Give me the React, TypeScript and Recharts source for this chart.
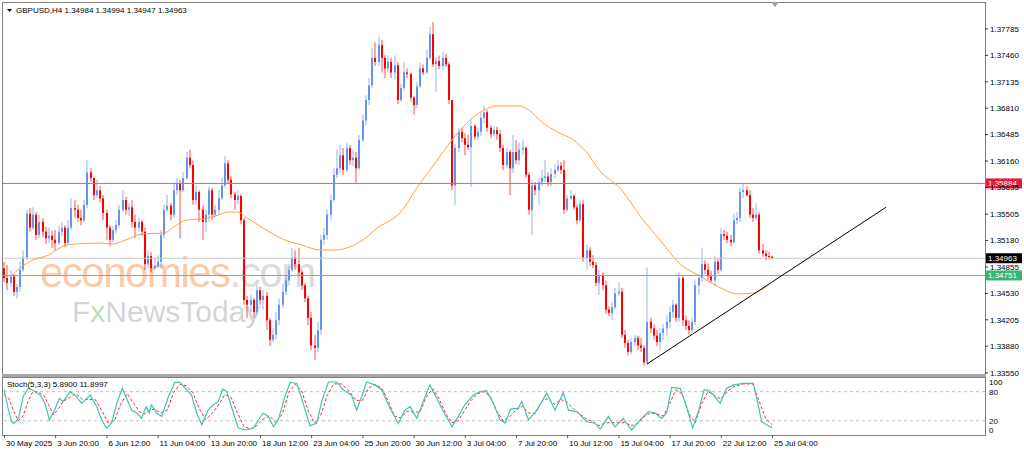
import React from 'react';
import { ComposedChart, Bar, Line, XAxis, YAxis, ReferenceLine } from 'recharts';

// GBPUSD H4, 30 May 2025 .. 25 Jul 2025 (241 bars), open = previous close
const xLabels = [
  '30 May 2025', '3 Jun 20:00', '6 Jun 12:00', '11 Jun 04:00', '13 Jun 20:00', '18 Jun 12:00',
  '23 Jun 04:00', '25 Jun 20:00', '30 Jun 12:00', '3 Jul 04:00', '7 Jul 20:00', '10 Jul 12:00',
  '15 Jul 04:00', '17 Jul 20:00', '22 Jul 12:00', '25 Jul 04:00',
];

const firstOpen = 1.3484;

const closes = [
  1.3472, 1.3466, 1.3474, 1.3455, 1.3461, 1.3482, 1.3497, 1.3551, 1.3534, 1.3550, 1.3525, 1.3541, 1.3529, 1.3521, 1.3524, 1.3519,
  1.3515, 1.3529, 1.3534, 1.3515, 1.3534, 1.3558, 1.3556, 1.3546, 1.3543, 1.3562, 1.3602, 1.3595, 1.3574, 1.3580, 1.3570, 1.3552,
  1.3534, 1.3519, 1.3531, 1.3537, 1.3556, 1.3568, 1.3556, 1.3559, 1.3541, 1.3534, 1.3541, 1.3529, 1.3489, 1.3499, 1.3484, 1.3487,
  1.3492, 1.3525, 1.3556, 1.3561, 1.3550, 1.3580, 1.3589, 1.3580, 1.3595, 1.3620, 1.3611, 1.3568, 1.3578, 1.3556, 1.3541, 1.3550,
  1.3580, 1.3550, 1.3556, 1.3570, 1.3586, 1.3613, 1.3593, 1.3575, 1.3568, 1.3573, 1.3543, 1.3445, 1.3439, 1.3445, 1.3430, 1.3457,
  1.3445, 1.3450, 1.3420, 1.3396, 1.3402, 1.3420, 1.3439, 1.3455, 1.3469, 1.3482, 1.3497, 1.3489, 1.3479, 1.3463, 1.3447, 1.3423,
  1.3389, 1.3386, 1.3408, 1.3519, 1.3525, 1.3550, 1.3568, 1.3599, 1.3607, 1.3623, 1.3605, 1.3632, 1.3617, 1.3620, 1.3607, 1.3642,
  1.3666, 1.3691, 1.3709, 1.3743, 1.3738, 1.3759, 1.3743, 1.3730, 1.3738, 1.3725, 1.3734, 1.3691, 1.3706, 1.3725, 1.3723, 1.3694,
  1.3685, 1.3708, 1.3730, 1.3725, 1.3743, 1.3772, 1.3735, 1.3739, 1.3733, 1.3743, 1.3735, 1.3691, 1.3586, 1.3632, 1.3652, 1.3644,
  1.3636, 1.3633, 1.3659, 1.3646, 1.3652, 1.3669, 1.3676, 1.3657, 1.3649, 1.3654, 1.3649, 1.3632, 1.3611, 1.3627, 1.3607, 1.3627,
  1.3617, 1.3630, 1.3632, 1.3599, 1.3556, 1.3586, 1.3580, 1.3590, 1.3595, 1.3597, 1.3590, 1.3600, 1.3605, 1.3610, 1.3605, 1.3556,
  1.3570, 1.3573, 1.3559, 1.3543, 1.3563, 1.3497, 1.3506, 1.3492, 1.3488, 1.3466, 1.3476, 1.3463, 1.3433, 1.3429, 1.3436, 1.3453,
  1.3455, 1.3402, 1.3392, 1.3381, 1.3393, 1.3398, 1.3389, 1.3386, 1.3368, 1.3418, 1.3410, 1.3401, 1.3393, 1.3404, 1.3410, 1.3418,
  1.3430, 1.3439, 1.3423, 1.3472, 1.3420, 1.3413, 1.3408, 1.3418, 1.3463, 1.3472, 1.3489, 1.3482, 1.3474, 1.3469, 1.3492, 1.3482,
  1.3526, 1.3524, 1.3519, 1.3516, 1.3543, 1.3546, 1.3578, 1.3580, 1.3574, 1.3550, 1.3546, 1.3550, 1.3506, 1.3502, 1.3499, 1.34984,
  1.34963,
];

const highs = [
  1.3492, 1.3488, 1.3482, 1.3477, 1.3465, 1.3492, 1.3506, 1.3556, 1.3558, 1.3559, 1.3553, 1.3550, 1.3546, 1.3535, 1.3534, 1.3530,
  1.3531, 1.3536, 1.3541, 1.3537, 1.3543, 1.3570, 1.3568, 1.3562, 1.3556, 1.3568, 1.3617, 1.3607, 1.3597, 1.3593, 1.3585, 1.3574,
  1.3556, 1.3537, 1.3536, 1.3543, 1.3562, 1.3580, 1.3572, 1.3564, 1.3568, 1.3550, 1.3546, 1.3543, 1.3534, 1.3506, 1.3504, 1.3497,
  1.3500, 1.3531, 1.3562, 1.3574, 1.3564, 1.3590, 1.3595, 1.3593, 1.3602, 1.3627, 1.3630, 1.3617, 1.3586, 1.3580, 1.3562, 1.3556,
  1.3585, 1.3583, 1.3562, 1.3580, 1.3595, 1.3622, 1.3617, 1.3597, 1.3578, 1.3580, 1.3575, 1.3546, 1.3450, 1.3451, 1.3447, 1.3463,
  1.3461, 1.3457, 1.3455, 1.3423, 1.3410, 1.3430, 1.3447, 1.3465, 1.3476, 1.3489, 1.3509, 1.3506, 1.3509, 1.3482, 1.3466, 1.3450,
  1.3430, 1.3402, 1.3418, 1.3525, 1.3534, 1.3556, 1.3574, 1.3607, 1.3630, 1.3636, 1.3632, 1.3638, 1.3636, 1.3630, 1.3627, 1.3648,
  1.3673, 1.3697, 1.3718, 1.3755, 1.3762, 1.3769, 1.3765, 1.3746, 1.3746, 1.3743, 1.3746, 1.3738, 1.3711, 1.3738, 1.3730, 1.3725,
  1.3696, 1.3713, 1.3737, 1.3735, 1.3753, 1.3781, 1.3787, 1.3744, 1.3746, 1.3750, 1.3748, 1.3738, 1.3691, 1.3637, 1.3657, 1.3657,
  1.3650, 1.3648, 1.3667, 1.3662, 1.3657, 1.3676, 1.3684, 1.3679, 1.3660, 1.3659, 1.3658, 1.3654, 1.3636, 1.3632, 1.3630, 1.3648,
  1.3642, 1.3639, 1.3642, 1.3634, 1.3602, 1.3593, 1.3590, 1.3595, 1.3605, 1.3617, 1.3602, 1.3607, 1.3612, 1.3617, 1.3615, 1.3617,
  1.3574, 1.3580, 1.3575, 1.3562, 1.3568, 1.3568, 1.3513, 1.3510, 1.3500, 1.3492, 1.3482, 1.3479, 1.3469, 1.3437, 1.3442, 1.3460,
  1.3467, 1.3460, 1.3408, 1.3396, 1.3398, 1.3402, 1.3401, 1.3398, 1.3389, 1.3485, 1.3423, 1.3415, 1.3408, 1.3410, 1.3415, 1.3426,
  1.3437, 1.3445, 1.3441, 1.3479, 1.3474, 1.3426, 1.3420, 1.3423, 1.3469, 1.3477, 1.3509, 1.3494, 1.3490, 1.3481, 1.3499, 1.3497,
  1.3534, 1.3531, 1.3529, 1.3525, 1.3551, 1.3553, 1.3583, 1.3588, 1.3585, 1.3580, 1.3558, 1.3564, 1.3553, 1.3514, 1.3506, 1.3504,
  1.34994,
];

const lows = [
  1.3467, 1.3457, 1.3461, 1.3450, 1.3447, 1.3455, 1.3479, 1.3494, 1.3529, 1.3531, 1.3519, 1.3521, 1.3522, 1.3514, 1.3515, 1.3509,
  1.3506, 1.3513, 1.3524, 1.3510, 1.3513, 1.3531, 1.3546, 1.3541, 1.3537, 1.3541, 1.3558, 1.3590, 1.3568, 1.3570, 1.3565, 1.3543,
  1.3519, 1.3511, 1.3516, 1.3527, 1.3534, 1.3553, 1.3550, 1.3548, 1.3534, 1.3521, 1.3529, 1.3524, 1.3482, 1.3484, 1.3479, 1.3482,
  1.3484, 1.3484, 1.3521, 1.3553, 1.3543, 1.3546, 1.3574, 1.3521, 1.3578, 1.3593, 1.3607, 1.3562, 1.3562, 1.3541, 1.3519, 1.3529,
  1.3541, 1.3543, 1.3546, 1.3550, 1.3568, 1.3583, 1.3588, 1.3570, 1.3556, 1.3563, 1.3538, 1.3439, 1.3423, 1.3430, 1.3423, 1.3426,
  1.3439, 1.3433, 1.3408, 1.3388, 1.3393, 1.3396, 1.3414, 1.3435, 1.3451, 1.3463, 1.3479, 1.3482, 1.3474, 1.3457, 1.3442, 1.3414,
  1.3383, 1.3371, 1.3381, 1.3402, 1.3513, 1.3519, 1.3543, 1.3565, 1.3595, 1.3602, 1.3599, 1.3602, 1.3611, 1.3610, 1.3589, 1.3605,
  1.3639, 1.3660, 1.3685, 1.3706, 1.3733, 1.3733, 1.3725, 1.3718, 1.3725, 1.3718, 1.3716, 1.3686, 1.3689, 1.3703, 1.3718, 1.3689,
  1.3673, 1.3681, 1.3706, 1.3722, 1.3723, 1.3740, 1.3732, 1.3701, 1.3729, 1.3728, 1.3732, 1.3686, 1.3580, 1.3562, 1.3627, 1.3639,
  1.3623, 1.3630, 1.3584, 1.3642, 1.3642, 1.3647, 1.3662, 1.3652, 1.3644, 1.3646, 1.3642, 1.3627, 1.3605, 1.3607, 1.3574, 1.3602,
  1.3612, 1.3611, 1.3623, 1.3595, 1.3550, 1.3525, 1.3574, 1.3562, 1.3585, 1.3590, 1.3585, 1.3585, 1.3595, 1.3602, 1.3600, 1.3551,
  1.3553, 1.3568, 1.3556, 1.3538, 1.3541, 1.3492, 1.3482, 1.3487, 1.3484, 1.3462, 1.3451, 1.3457, 1.3428, 1.3425, 1.3420, 1.3433,
  1.3450, 1.3398, 1.3386, 1.3377, 1.3378, 1.3388, 1.3383, 1.3381, 1.3364, 1.3366, 1.3404, 1.3396, 1.3388, 1.3383, 1.3396, 1.3401,
  1.3410, 1.3423, 1.3418, 1.3418, 1.3413, 1.3408, 1.3402, 1.3405, 1.3414, 1.3451, 1.3467, 1.3477, 1.3469, 1.3466, 1.3462, 1.3477,
  1.3479, 1.3519, 1.3515, 1.3511, 1.3514, 1.3538, 1.3541, 1.3570, 1.3572, 1.3546, 1.3541, 1.3543, 1.3502, 1.3498, 1.3494, 1.3495,
  1.34947,
];

// orange moving average, read at bar index
const maPoints: [number, number][] = [
  [2, 1.34732], [5, 1.34843], [9, 1.34941], [14, 1.35003], [18, 1.35101], [22, 1.35138], [30, 1.3515], [34, 1.35138],
  [38, 1.35187], [43, 1.35261], [50, 1.35273], [53, 1.35347], [57, 1.35434], [62, 1.35446], [67, 1.35495], [70, 1.35532],
  [73, 1.35532], [76, 1.35458], [81, 1.35335], [87, 1.352], [93, 1.35126], [99, 1.35064], [103, 1.35064], [108, 1.35101],
  [113, 1.35212], [117, 1.35347], [121, 1.35434], [124, 1.35532], [129, 1.35828], [135, 1.36148], [140, 1.36418], [145, 1.3664],
  [150, 1.36788], [154, 1.36837], [161, 1.36837], [164, 1.36788], [168, 1.3664], [173, 1.36517], [178, 1.36418], [182, 1.36271],
  [186, 1.36049], [193, 1.35803], [199, 1.35471], [205, 1.35187], [211, 1.34904], [218, 1.34732], [224, 1.34596], [229, 1.34523],
  [234, 1.34535], [239, 1.34633],
];

// Stoch(5,3,3) main and signal, read at bar index
const stochMain: [number, number][] = [
  [0, 84], [1.4, 42], [2.4, 18], [3.1, 14], [4.5, 25], [6, 70], [7.6, 87], [9.2, 82], [11.3, 73], [12.8, 56], [14.2, 22], [15.4, 36],
  [17.3, 66], [18.5, 60], [20.6, 80], [22.2, 73], [24.3, 56], [26.9, 73], [29, 49], [30.5, 22], [32, 5], [33.6, 15], [35.4, 60], [37, 87],
  [38.3, 66], [39.9, 42], [41.5, 36], [43, 25], [44.4, 49], [45.4, 36], [46.1, 53], [47.7, 36], [49.3, 29], [51.4, 70], [53.4, 99], [55, 99],
  [57.1, 84], [58.6, 73], [60.2, 36], [61.8, 12], [63.8, 42], [65.4, 53], [67, 60], [68.3, 85], [69.6, 80], [71.7, 36], [73.2, 5], [75.8, 1],
  [77.9, 5], [81, 36], [82.6, 29], [84.2, 8], [85.7, 22], [87.8, 70], [89.4, 99], [91.5, 97], [93.5, 56], [95.6, 10], [97.7, 15], [99.3, 60],
  [101.4, 100], [104, 100], [106, 84], [108.6, 73], [110.2, 42], [111.8, 70], [113.3, 100], [115.9, 94], [118, 84], [120.6, 46], [123.2, 15],
  [125.3, 42], [126.9, 49], [129, 25], [131, 60], [133.1, 94], [134.7, 73], [137.3, 39], [140, 8], [142, 29], [144, 53], [146.7, 73],
  [148.8, 80], [150.8, 82], [152.9, 56], [155, 22], [156.6, 15], [158.3, 44], [160.7, 46], [161.8, 60], [163.9, 22], [166.5, 42], [169.6, 77],
  [172.2, 42], [174.8, 78], [176.4, 42], [179, 39], [182.1, 18], [184.7, 15], [186.3, 3], [188.9, 29], [190.9, 7], [193.5, 25], [196.1, 1],
  [198.8, 22], [201.4, 39], [203.4, 36], [205.5, 25], [207.1, 36], [208.6, 89], [211.3, 87], [213.3, 49], [215.2, 5], [217, 39], [218.8, 84],
  [220.6, 82], [223.8, 56], [225.8, 87], [228, 94], [231, 97], [234.2, 97], [236.8, 18], [238.3, 12], [240, 5.89],
];

const stochSignal: [number, number][] = [
  [0, 74], [1.5, 66], [3, 40], [4.5, 20], [6, 30], [7.5, 60], [9, 80], [10.5, 80], [12.5, 72], [14, 52], [15.5, 32], [17, 45], [18.5, 60],
  [20.5, 68], [22.5, 76], [24.5, 64], [26.5, 64], [28.5, 64], [30.5, 42], [32.5, 16], [34.5, 20], [36.5, 55], [38.5, 76], [40.5, 56],
  [42.5, 38], [44, 34], [45.5, 42], [47, 44], [49, 36], [51, 42], [53, 78], [55, 95], [57, 92], [59, 78], [61, 45], [63, 22], [65, 35],
  [67, 52], [69, 74], [71, 68], [73, 35], [75, 8], [77, 3], [79, 10], [81, 24], [83, 30], [85, 16], [87, 35], [89, 78], [91, 95], [93, 82],
  [95, 42], [97, 15], [99, 32], [101, 72], [103, 96], [105.5, 96], [108, 80], [110, 62], [112, 62], [114, 88], [116, 95], [118, 88],
  [120, 62], [122, 30], [124, 26], [126, 40], [128, 38], [130, 38], [132, 70], [134, 86], [136, 65], [138, 35], [140, 16], [142, 20],
  [144, 42], [146, 62], [148, 76], [150, 80], [152, 70], [154, 40], [156, 20], [158, 28], [160, 42], [162, 50], [164, 36], [166, 35],
  [168, 60], [170, 66], [172, 54], [174, 64], [176, 58], [178, 44], [180, 34], [182, 24], [184, 18], [186, 10], [188, 16], [190, 16],
  [192, 16], [194, 16], [196, 10], [198, 14], [200, 28], [202, 36], [204, 34], [206, 30], [208, 55], [210, 84], [212, 75], [214, 35],
  [216, 16], [218, 55], [220, 80], [222, 72], [224, 65], [226, 80], [228, 90], [231, 96], [234, 96], [236, 60], [238, 25], [240, 11.9],
];

const priceTicks = [1.37785, 1.3746, 1.37135, 1.3681, 1.36485, 1.3616, 1.35835, 1.35505, 1.3518, 1.34855, 1.3453, 1.34205, 1.3388, 1.3355];
const stochTicks = [0, 20, 80, 100];
const resistance = 1.35884;
const support = 1.34751;
const bid = 1.34963;
const trendFrom = { x: 200.9, y: 1.3366 };
const trendTo = { x: 275.6, y: 1.3559 };

const FONT = '"Liberation Sans", Arial, sans-serif';
const X_DOMAIN: [number, number] = [-0.3125, 306.5625];
const xTickIdx = xLabels.map((_, k) => k * 16);

const maMap = new Map(maPoints);
const candles = closes.map((c, i) => ({
  i,
  open: i === 0 ? firstOpen : closes[i - 1],
  close: c,
  high: highs[i],
  low: lows[i],
  range: [lows[i], highs[i]],
  ma: maMap.has(i) ? maMap.get(i) : null,
}));

const stochRows = (() => {
  const m = new Map<number, any>();
  stochMain.forEach(([i, v]) => m.set(i, { ...(m.get(i) || { i }), main: v }));
  stochSignal.forEach(([i, v]) => m.set(i, { ...(m.get(i) || { i }), signal: v }));
  return Array.from(m.values()).sort((a, b) => a.i - b.i);
})();

function Candle(props: any) {
  const { x, y, width, height, payload } = props;
  if (!payload || !isFinite(y) || !isFinite(height)) return null;
  const top = Math.min(y, y + height);
  const bottom = Math.max(y, y + height);
  const k = (bottom - top) / (payload.high - payload.low || 1e-9);
  const toY = (v: number) => top + (payload.high - v) * k;
  const cx = Math.round(x + width / 2);
  const color = payload.close >= payload.open ? '#6495ed' : '#ff0000';
  const b1 = toY(Math.max(payload.open, payload.close));
  const b2 = toY(Math.min(payload.open, payload.close));
  return (
    <g>
      <line x1={cx} x2={cx} y1={top} y2={bottom} stroke={color} strokeOpacity={0.7} />
      <rect x={cx - 1} y={b1} width={2} height={Math.max(1, b2 - b1)} fill={color} />
    </g>
  );
}

function PriceTag(props: any) {
  const { viewBox, bg, fg, value } = props;
  if (!viewBox) return null;
  const x = viewBox.x + viewBox.width + 1;
  const y = viewBox.y;
  return (
    <g>
      <rect x={x} y={y - 5} width={36} height={10} fill={bg} />
      <text x={x + 2} y={y + 3} fontSize={8} fontFamily={FONT} fill={fg}>{value.toFixed(5)}</text>
    </g>
  );
}

function TimeTick(props: any) {
  const { x, y, payload } = props;
  const k = xTickIdx.indexOf(payload.value);
  return (
    <g>
      <line x1={x + 0.5} x2={x + 0.5} y1={y} y2={y + 3} stroke="#555" />
      <text x={x + 2} y={y + 11} fontSize={8} fontFamily={FONT} fill="#000" textAnchor="start">{xLabels[k]}</text>
    </g>
  );
}

const axisTick = { fontSize: 8, fill: '#000', fontFamily: FONT };

export default function App() {
  return (
    <div style={{ position: 'absolute', left: 0, top: 0, width: 1024, height: 454, background: '#fff', overflow: 'hidden' }}>
      <svg width={1024} height={454} style={{ position: 'absolute', left: 0, top: 0 }}>
        <text x={40} y={287} fontFamily={FONT} fontSize={42} letterSpacing={-1.5} fill="rgba(248,150,90,0.5)">
          economies<tspan fill="rgba(185,185,185,0.5)">.com</tspan>
        </text>
        <text x={72} y={322} fontFamily={FONT} fontSize={30} fill="rgba(160,160,160,0.45)">
          F<tspan fill="rgba(120,190,120,0.5)">x</tspan>NewsToday
        </text>
      </svg>
      <div style={{ position: 'absolute', left: 2, top: 2, width: 984, height: 373, boxSizing: 'border-box', border: '1px solid #808080' }} />
      <div style={{ position: 'absolute', left: 2, top: 374, width: 984, height: 3, background: '#a8a8a8' }} />
      <div style={{ position: 'absolute', left: 2, top: 377, width: 984, height: 59, boxSizing: 'border-box', border: '1px solid #808080' }} />

      <div style={{ position: 'absolute', left: 0, top: 0 }}>
        <ComposedChart width={1024} height={382} data={candles} margin={{ top: 3, right: 0, bottom: 8, left: 3 }}>
          <XAxis dataKey="i" type="number" domain={X_DOMAIN} hide allowDataOverflow />
          <YAxis
            orientation="right"
            width={39}
            domain={[1.33538, 1.38105]}
            allowDataOverflow
            ticks={priceTicks}
            interval={0}
            tickFormatter={(v: number) => v.toFixed(5)}
            tick={axisTick}
            tickSize={3}
            tickMargin={2}
            axisLine={false}
            tickLine={{ stroke: '#333' }}
          />
          <ReferenceLine y={bid} stroke="#c8c8c8" label={<PriceTag bg="#000" fg="#fff" value={bid} />} />
          <ReferenceLine y={support} stroke="#5cc284" label={<PriceTag bg="#3cb371" fg="#fff" value={support} />} />
          <ReferenceLine y={resistance} stroke="#e0607a" label={<PriceTag bg="#e01e3c" fg="#fff" value={resistance} />} />
          <Bar dataKey="range" shape={(p: any) => <Candle {...p} />} isAnimationActive={false} />
          <Line dataKey="ma" type="monotone" stroke="#ffa040" strokeWidth={1} dot={false} connectNulls isAnimationActive={false} />
          <ReferenceLine segment={[trendFrom, trendTo]} stroke="#000" strokeWidth={1} ifOverflow="visible" />
        </ComposedChart>
      </div>

      <div style={{ position: 'absolute', left: 0, top: 376 }}>
        <ComposedChart width={1024} height={78} data={stochRows} margin={{ top: 2, right: 0, bottom: 0, left: 3 }}>
          <XAxis
            dataKey="i"
            type="number"
            domain={X_DOMAIN}
            allowDataOverflow
            ticks={xTickIdx}
            interval={0}
            height={19}
            axisLine={false}
            tickLine={false}
            tickSize={0}
            tickMargin={0}
            tick={(p: any) => <TimeTick {...p} />}
          />
          <YAxis
            orientation="right"
            width={39}
            domain={[-9.3, 108.2]}
            allowDataOverflow
            ticks={stochTicks}
            interval={0}
            tick={axisTick}
            tickSize={2}
            tickMargin={2}
            axisLine={false}
            tickLine={false}
          />
          <ReferenceLine y={80} stroke="#c0c0c0" strokeDasharray="3 3" />
          <ReferenceLine y={20} stroke="#c0c0c0" strokeDasharray="3 3" />
          <Line dataKey="signal" type="linear" stroke="#ff2a2a" strokeWidth={1} strokeDasharray="3 2" dot={false} connectNulls isAnimationActive={false} />
          <Line dataKey="main" type="linear" stroke="#40c4b6" strokeWidth={1.2} dot={false} connectNulls isAnimationActive={false} />
        </ComposedChart>
      </div>

      <svg width={1024} height={454} style={{ position: 'absolute', left: 0, top: 0, pointerEvents: 'none' }}>
        <polygon points="7,9 12,9 9.5,12" fill="#000" />
        <text x={16} y={13} fontFamily={FONT} fontSize={8} fill="#000">GBPUSD,H4  1.34984 1.34994 1.34947 1.34963</text>
        <text x={7} y={387} fontFamily={FONT} fontSize={8} fill="#000">Stoch(5,3,3) 5.8900 11.8997</text>
        <polygon points="771,2 779,2 775,7" fill="#a0a0a0" />
      </svg>
    </div>
  );
}
